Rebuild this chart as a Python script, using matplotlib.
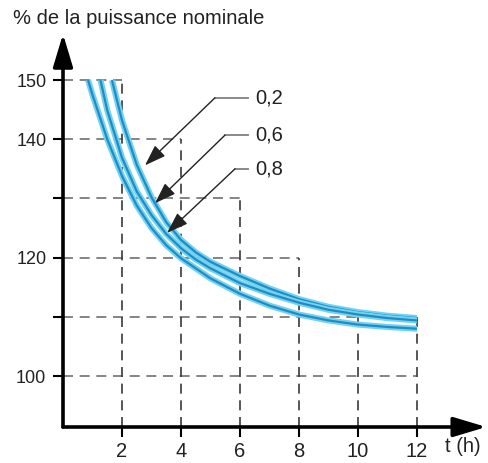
import matplotlib.pyplot as plt

plt.rcParams['font.family'] = ['Liberation Sans', 'DejaVu Sans']

# courbes de surcharge admissible (t en heures, % de la puissance nominale)
t_02 = [1.66, 2.0, 2.5, 3.0, 3.5, 4.0, 4.5, 5.0, 6.0, 7.0, 8.0, 9.0, 10.0, 11.0, 12.0]
p_02 = [150, 143.2, 135.7, 130.2, 126.0, 123.0, 120.9, 119.3, 116.9, 114.8, 113.0, 111.7, 110.8, 110.2, 109.8]

t_06 = [1.27, 1.5, 2.0, 2.5, 3.0, 3.5, 4.0, 4.5, 5.0, 6.0, 7.0, 8.0, 9.0, 10.0, 11.0, 12.0]
p_06 = [150, 144.9, 136.9, 131.2, 127.2, 124.0, 121.6, 119.7, 118.2, 115.7, 113.9, 112.4, 111.2, 110.4, 109.8, 109.4]

t_08 = [0.85, 1.0, 1.5, 2.0, 2.5, 3.0, 3.5, 4.0, 5.0, 6.0, 7.0, 8.0, 9.0, 10.0, 11.0, 12.0]
p_08 = [150, 147.5, 140.0, 133.8, 128.8, 125.0, 122.1, 119.9, 116.5, 113.9, 111.9, 110.4, 109.4, 108.7, 108.3, 108.0]

labels = ['0,2', '0,6', '0,8']
# pointes des flèches et coudes des lignes de rappel
tips = [(2.78, 135.6), (3.12, 129.2), (3.53, 124.2)]
corners = [(5.15, 147.0), (5.49, 140.7), (5.83, 135.0)]
label_x = 6.27

# lignes de repère en pointillés
h_levels = [150, 140, 130, 120, 110, 100]
h_ends = [2, 4, 6, 8, 12, 12]
v_times = [2, 4, 6, 8, 10, 12]
v_tops = [150, 140, 130, 120, 110, 110]

x_ticks = [2, 4, 6, 8, 10, 12]
y_ticks = [100, 110, 120, 130, 140, 150]
y_labels = ['100', '', '120', '', '140', '150']

y0 = 91.4
fig = plt.figure(figsize=(4.88, 4.63), dpi=100)
ax = fig.add_axes([63 / 488, 36 / 463, 425 / 488, 412 / 463])
ax.set_xlim(0, 425 / 29.5)
ax.set_ylim(y0, y0 + 412 / 5.92)
for s in ax.spines.values():
    s.set_visible(False)

for y, xe in zip(h_levels, h_ends):
    ax.plot([0, xe], [y, y], color='#707070', lw=1.2, dashes=(6, 4))
for x, yt in zip(v_times, v_tops):
    ax.plot([x, x], [y0, yt], color='#3a3a3a', lw=1.2, dashes=(6, 4))

for t, p in [(t_02, p_02), (t_06, p_06), (t_08, p_08)]:
    ax.plot(t, p, color='#72d2f2', lw=4.4, solid_capstyle='butt')
    ax.plot(t, p, color='#1f8cc4', lw=1.6, solid_capstyle='butt')

for lab, tip, c in zip(labels, tips, corners):
    ax.plot([c[0], label_x], [c[1], c[1]], color='#808080', lw=1.3)
    ax.annotate('', xy=tip, xytext=c,
                arrowprops=dict(arrowstyle='-|>,head_length=1.3,head_width=0.45',
                                color='#222222', lw=1, shrinkA=0, shrinkB=0,
                                mutation_scale=10))
    ax.text(label_x + 0.25, c[1], lab, fontsize=14.5, va='center', ha='left',
            color='#222222')

# axes avec flèches
head = '-|>,head_length=1.0,head_width=0.3'
ax.annotate('', xy=(14.35, y0), xytext=(0, y0),
            arrowprops=dict(arrowstyle=head, color='black', lw=2.6, shrinkA=0,
                            shrinkB=0, mutation_scale=20), annotation_clip=False)
ax.annotate('', xy=(0, 157.8), xytext=(0, y0),
            arrowprops=dict(arrowstyle=head, color='black', lw=2.6, shrinkA=0,
                            shrinkB=0, mutation_scale=20), annotation_clip=False)

ax.set_xticks(x_ticks)
ax.set_xticklabels([str(v) for v in x_ticks])
ax.set_yticks(y_ticks)
ax.set_yticklabels(y_labels)
ax.tick_params(axis='both', length=7, width=1.5, color='black',
               labelcolor='#222222', pad=5)
ax.tick_params(axis='x', labelsize=14.5, pad=4)
ax.tick_params(axis='y', labelsize=13)
ax.xaxis.set_ticks_position('bottom')
ax.yaxis.set_ticks_position('left')

fig.text(13 / 488, 1 - 18 / 463, '% de la puissance nominale', fontsize=14.5,
         va='center', ha='left', color='#222222')
fig.text(445 / 488, 1 - 447 / 463, 't (h)', fontsize=14.5, va='center',
         ha='left', color='#222222')

fig.savefig('out.png', dpi=100)
